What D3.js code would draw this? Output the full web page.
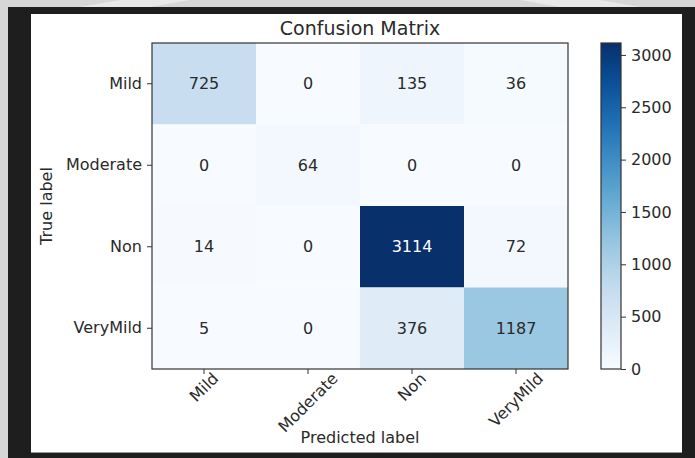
<!DOCTYPE html>
<html>
<head>
<meta charset="utf-8">
<script src="https://cdn.jsdelivr.net/npm/d3@7"></script>
<style>
  html, body { margin: 0; padding: 0; background: #d9d9d9; }
  svg { display: block; }
  text { font-family: "DejaVu Sans", sans-serif; }
</style>
</head>
<body>
<svg id="chart" width="695" height="458"></svg>
<script>
// Class names (true label rows, predicted label columns)
const classes = ["Mild", "Moderate", "Non", "VeryMild"];
// Confusion matrix counts, one row per true class
const rowMild     = [725, 0, 135, 36];
const rowModerate = [0, 64, 0, 0];
const rowNon      = [14, 0, 3114, 72];
const rowVeryMild = [5, 0, 376, 1187];
const matrix = [rowMild, rowModerate, rowNon, rowVeryMild];
// Colorbar tick values
const colorbarTicks = [0, 500, 1000, 1500, 2000, 2500, 3000];

const svg = d3.select("#chart");
const W = 695, H = 458;

// page backdrop, dark frame and white figure panel
svg.append("rect").attr("width", W).attr("height", H).attr("fill", "#d6d6d6");
svg.append("path").attr("d", "M120,0 L190,0 L150,7 L80,7 Z").attr("fill", "#e8e8e8");
svg.append("path").attr("d", "M520,0 L600,0 L640,7 L560,7 Z").attr("fill", "#e8e8e8");
svg.append("rect").attr("x", 8).attr("y", 7).attr("width", W - 8).attr("height", H - 7).attr("fill", "#1e1e1e");
svg.append("rect").attr("x", 31).attr("y", 14).attr("width", 651).attr("height", 439).attr("fill", "#ffffff");
svg.append("line").attr("x1", 31).attr("x2", 682).attr("y1", 452.5).attr("y2", 452.5).attr("stroke", "#9a9a9a");

const plot = { left: 152, top: 43, right: 568, bottom: 369 };
const textColor = "#2a2a2a";
const fs = 16;

const x = d3.scaleBand().domain(classes).range([plot.left, plot.right]);
const y = d3.scaleBand().domain(classes).range([plot.top, plot.bottom]);
const vmax = d3.max(matrix.flat());
const color = d3.scaleSequential(d3.interpolateBlues).domain([0, vmax]);

// cells
const cells = [];
matrix.forEach((row, i) => row.forEach((v, j) => cells.push({ r: classes[i], c: classes[j], v })));

svg.append("g").selectAll("rect").data(cells).join("rect")
  .attr("x", d => x(d.c)).attr("y", d => y(d.r))
  .attr("width", x.bandwidth()).attr("height", y.bandwidth())
  .attr("fill", d => color(d.v));

svg.append("g").selectAll("text").data(cells).join("text")
  .attr("x", d => x(d.c) + x.bandwidth() / 2)
  .attr("y", d => y(d.r) + y.bandwidth() / 2)
  .attr("text-anchor", "middle").attr("dominant-baseline", "central")
  .attr("font-size", fs)
  .attr("fill", d => d.v > vmax / 2 ? "#ffffff" : textColor)
  .text(d => d.v);

// frame around the matrix
svg.append("rect").attr("x", plot.left).attr("y", plot.top)
  .attr("width", plot.right - plot.left).attr("height", plot.bottom - plot.top)
  .attr("fill", "none").attr("stroke", "#333").attr("stroke-width", 1.2);

// y axis
const yAxis = d3.axisLeft(y).tickSize(5).tickPadding(5);
const gy = svg.append("g").attr("transform", `translate(${plot.left},0)`).call(yAxis);
gy.select(".domain").remove();
gy.selectAll("line").attr("stroke", "#333");
gy.selectAll("text").attr("font-size", fs).attr("fill", textColor).attr("font-family", "DejaVu Sans");

// x axis with 45-degree labels centred under each tick
const xAxis = d3.axisBottom(x).tickSize(5).tickFormat("");
const gx = svg.append("g").attr("transform", `translate(0,${plot.bottom})`).call(xAxis);
gx.select(".domain").remove();
gx.selectAll("line").attr("stroke", "#333");
const xl = svg.append("g");
classes.forEach(c => {
  const t = xl.append("text").attr("font-size", fs).attr("fill", textColor)
    .attr("text-anchor", "middle").attr("dominant-baseline", "central").text(c);
  const w = t.node().getComputedTextLength();
  const hh = fs * 1.0;
  const boxH = (w + hh) * Math.SQRT1_2;
  const cx = x(c) + x.bandwidth() / 2;
  const cy = plot.bottom + 1 + boxH / 2;
  t.attr("transform", `translate(${cx},${cy}) rotate(-45)`);
});

// axis titles and chart title
svg.append("text").attr("x", (plot.left + plot.right) / 2).attr("y", 35)
  .attr("text-anchor", "middle").attr("font-size", 19).attr("fill", textColor).text("Confusion Matrix");
svg.append("text").attr("x", (plot.left + plot.right) / 2).attr("y", 443)
  .attr("text-anchor", "middle").attr("font-size", fs).attr("fill", textColor).text("Predicted label");
svg.append("text").attr("transform", `translate(52,${(plot.top + plot.bottom) / 2}) rotate(-90)`)
  .attr("text-anchor", "middle").attr("font-size", fs).attr("fill", textColor).text("True label");

// colorbar
const cb = { left: 601, width: 20 };
const cScale = d3.scaleLinear().domain([0, vmax]).range([plot.bottom, plot.top]);
const defs = svg.append("defs");
const grad = defs.append("linearGradient").attr("id", "cbgrad")
  .attr("x1", 0).attr("y1", 1).attr("x2", 0).attr("y2", 0);
d3.range(0, 1.0001, 0.05).forEach(t => {
  grad.append("stop").attr("offset", t).attr("stop-color", d3.interpolateBlues(t));
});
svg.append("rect").attr("x", cb.left).attr("y", plot.top)
  .attr("width", cb.width).attr("height", plot.bottom - plot.top)
  .attr("fill", "url(#cbgrad)").attr("stroke", "#333").attr("stroke-width", 1.2);
const cAxis = d3.axisRight(cScale).tickValues(colorbarTicks).tickFormat(d3.format("d"))
  .tickSize(5).tickPadding(5);
const gc = svg.append("g").attr("transform", `translate(${cb.left + cb.width},0)`).call(cAxis);
gc.select(".domain").remove();
gc.selectAll("line").attr("stroke", "#333");
gc.selectAll("text").attr("font-size", fs).attr("fill", textColor).attr("font-family", "DejaVu Sans");
</script>
</body>
</html>
